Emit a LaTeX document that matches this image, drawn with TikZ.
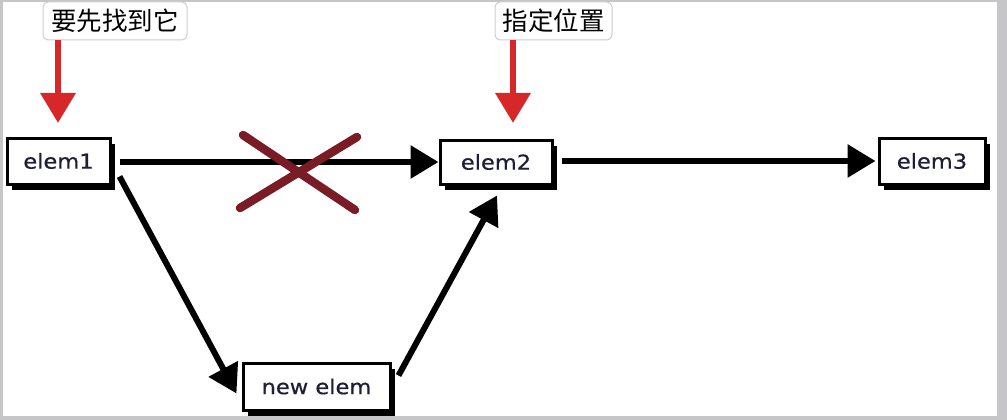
\documentclass[tikz,border=0pt]{standalone}
\usepackage{fontspec}
\setmainfont{DejaVu Sans}
\newfontfamily\elemfont[FakeStretch=1.1,FakeBold=0.6]{DejaVu Sans}
\newfontfamily\cjk{Noto Sans CJK SC}
\usetikzlibrary{arrows.meta,shadows}
\definecolor{bordergray}{RGB}{198,198,200}
\definecolor{lblgray}{RGB}{205,205,205}
\definecolor{redarr}{RGB}{214,40,40}
\definecolor{crossred}{RGB}{122,28,38}
\definecolor{elemtext}{RGB}{30,30,55}
\tikzset{
  elembox/.style={draw=black, line width=3pt, fill=white, inner sep=0pt,
    font=\elemfont\fontsize{20.5}{24}\selectfont, text=elemtext,
    drop shadow={shadow xshift=5pt, shadow yshift=-6pt, opacity=1, fill=black}},
  lblbox/.style={draw=lblgray, line width=1pt, fill=white, rounded corners=5pt,
    inner sep=0pt, font=\cjk\fontsize{25.5}{28}\selectfont, text=black},
  blackarr/.style={line width=6pt, draw=black,
    -{Triangle[length=28pt,width=32pt]}},
  redarrow/.style={line width=6.5pt, draw=redarr,
    -{Triangle[length=30pt,width=34pt]}},
  crossline/.style={line width=8.5pt, draw=crossred, line cap=round}
}
\begin{document}
\begin{tikzpicture}[x=1pt,y=-1pt]
  % frame
  \fill[bordergray] (0,0) rectangle (1007,420);
  \fill[white] (3,2) rectangle (997,416);
  \useasboundingbox (0,0) rectangle (1007,420);

  % nodes
  \node[elembox, minimum width=103pt, minimum height=46pt] (e1) at (58.5,161) {elem1};
  \node[elembox, minimum width=112pt, minimum height=44pt] (e2) at (496,162) {elem2};
  \node[elembox, minimum width=106pt, minimum height=46pt] (e3) at (932,161) {elem3};
  \node[elembox, minimum width=147pt, minimum height=47pt] (ne) at (316.5,386.5) {new elem};

  \node[lblbox, minimum width=144pt, minimum height=38pt] (l1) at (115,21) {要先找到它};
  \node[lblbox, minimum width=117pt, minimum height=38pt] (l2) at (553.5,21) {指定位置};

  % red arrows
  \coordinate (r1s) at (58,40);
  \coordinate (r1e) at (58,123);
  \coordinate (r2s) at (513,40);
  \coordinate (r2e) at (513,123);
  \draw[redarrow] (r1s) -- (r1e);
  \draw[redarrow] (r2s) -- (r2e);

  % black arrows
  \draw[blackarr] ([xshift=8pt,yshift=-1pt]e1.east) -- (e2.west);
  \draw[blackarr] ([xshift=8pt,yshift=1pt]e2.east) -- ([xshift=-2pt]e3.west);
  \draw[blackarr] ([xshift=8pt,yshift=9pt]e1.south east) -- ([xshift=-5pt,yshift=-7pt]ne.west);
  \draw[blackarr] ([xshift=7pt,yshift=11pt]ne.east) -- ([xshift=1pt,yshift=-10pt]e2.south);

  % cross
  \coordinate (c1) at (243,135);
  \coordinate (c2) at (355,210);
  \coordinate (c3) at (240,208);
  \coordinate (c4) at (357,137);
  \draw[crossline] (c1) -- (c2);
  \draw[crossline] (c3) -- (c4);
\end{tikzpicture}
\end{document}
